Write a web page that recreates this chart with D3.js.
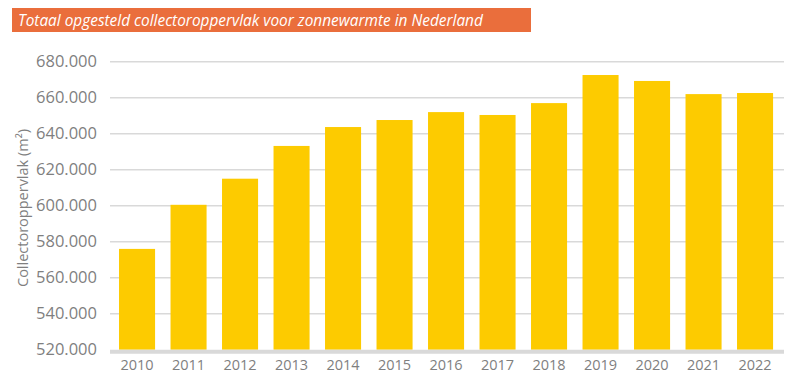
<!DOCTYPE html>
<html>
<head>
<meta charset="utf-8">
<script src="https://cdn.jsdelivr.net/npm/d3@7"></script>
<style>
  body { margin: 0; background: #fff; }
  text { font-family: "Open Sans", Lato, sans-serif; }
</style>
</head>
<body>
<script>
// chart data
var years = ["2010","2011","2012","2013","2014","2015","2016","2017","2018","2019","2020","2021","2022"];
var area_values = [576000, 600500, 615000, 633200, 643700, 647600, 652000, 650400, 657000, 672600, 669300, 662000, 662600];
var y_ticks = [520000, 540000, 560000, 580000, 600000, 620000, 640000, 660000, 680000];

var width = 800, height = 385;
var left = 110, right = 784, top_y = 61.7, bottom_y = 349.7;
var text_grey = "#7f7f7f";
var grid_grey = "#d9d9d9";

var svg = d3.select("body").append("svg")
  .attr("width", width)
  .attr("height", height);

// title bar
svg.append("rect")
  .attr("x", 12).attr("y", 8)
  .attr("width", 519).attr("height", 24)
  .style("fill", "#ea6e3c");

svg.append("text")
  .text("Totaal opgesteld collectoroppervlak voor zonnewarmte in Nederland")
  .attr("x", 18).attr("y", 25.5)
  .style("font-size", "15.4px")
  .style("font-style", "italic")
  .style("fill", "#fff");

var x = d3.scaleBand()
  .domain(years)
  .range([111.3, 780.8])
  .paddingInner(0.3)
  .paddingOuter(0.15);

var y = d3.scaleLinear()
  .domain([520000, 680000])
  .range([bottom_y, top_y]);

var fmt = function(d) { return d3.format(",")(d).replace(/,/g, "."); };

// gridlines
svg.append("g").selectAll("line")
  .data(y_ticks.slice(1))
  .join("line")
  .attr("x1", left).attr("x2", right)
  .attr("y1", d => y(d)).attr("y2", d => y(d))
  .style("stroke", grid_grey)
  .style("stroke-width", 1.5);

// bars
svg.append("g").selectAll("rect")
  .data(area_values)
  .join("rect")
  .attr("x", (d, i) => x(years[i]))
  .attr("width", x.bandwidth())
  .attr("y", d => y(d))
  .attr("height", d => y(520000) - y(d))
  .style("fill", "#fdcb00");

// baseline
svg.append("line")
  .attr("x1", left).attr("x2", right)
  .attr("y1", y(520000) + 2).attr("y2", y(520000) + 2)
  .style("stroke", grid_grey)
  .style("stroke-width", 4);

// y axis labels
var yAxis = d3.axisLeft(y).tickValues(y_ticks).tickFormat(fmt).tickSize(0).tickPadding(0);
var yg = svg.append("g").attr("transform", "translate(97,0)").call(yAxis);
yg.select(".domain").remove();
yg.selectAll("text")
  .style("font-size", "16.5px")
  .style("fill", text_grey);

// x axis labels
var xAxis = d3.axisBottom(x).tickSize(0).tickPadding(0);
var xg = svg.append("g").attr("transform", "translate(0,360)").call(xAxis);
xg.select(".domain").remove();
xg.selectAll("text")
  .style("font-size", "14.5px")
  .style("fill", text_grey);

// y axis title
svg.append("text")
  .text("Collectoroppervlak (m²)")
  .attr("transform", "translate(28,208) rotate(-90)")
  .attr("text-anchor", "middle")
  .style("font-size", "14.5px")
  .style("fill", text_grey);
</script>
</body>
</html>
